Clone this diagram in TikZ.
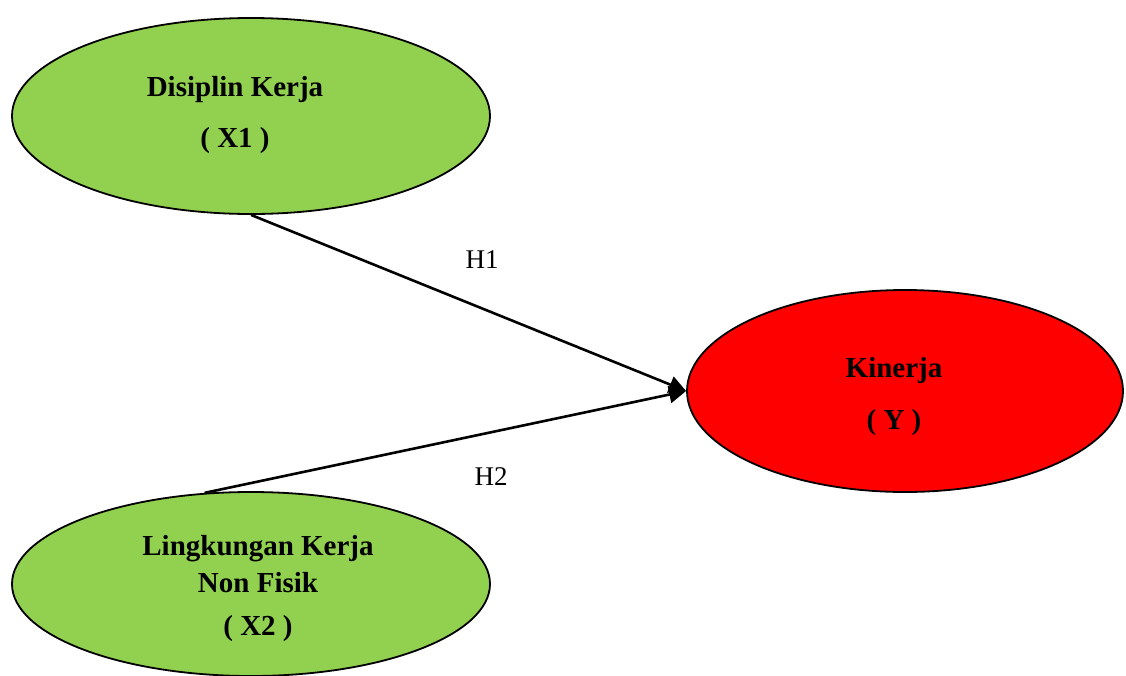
\documentclass[tikz,border=0pt]{standalone}
\usepackage{fontspec}
\setmainfont{Liberation Serif}
\usetikzlibrary{shapes.geometric,arrows.meta}
\definecolor{vargreen}{HTML}{92D050}
\definecolor{varred}{HTML}{FF0000}

\begin{document}
\begin{tikzpicture}[x=1pt,y=-1pt,
  varbox/.style={ellipse,draw=black,line width=1.8pt,inner sep=0pt,
    font=\fontsize{29}{34}\selectfont\bfseries},
  vartext/.style={align=center,font=\fontsize{29}{34}\selectfont\bfseries},
  hlabel/.style={font=\fontsize{27}{32}\selectfont},
  hyp/.style={line width=2.6pt,-{Triangle[length=17pt,width=17pt]}}]
\useasboundingbox (0,0) rectangle (1126,675);
% variables
\node[varbox,fill=vargreen,minimum width=478pt,minimum height=196pt] (x1) at (251,116) {};
\node[varbox,fill=vargreen,minimum width=478pt,minimum height=184pt] (x2) at (251,584) {};
\node[varbox,fill=varred,minimum width=436pt,minimum height=202pt] (y) at (905,391) {};
\node[vartext] (x1t) at (235,115) {Disiplin Kerja\\[17pt]( X1 )};
\node[vartext] (x2t) at (258,589) {Lingkungan Kerja\\[3pt]Non Fisik\\[9pt]( X2 )};
\node[vartext] (yt) at (894,397) {Kinerja\\[18pt]( Y )};
% hypotheses
\draw[hyp] (x1.south) -- (y.west);
\draw[hyp] (x2.117) -- (y.west);
\node[hlabel] (h1) at (482,260) {H1};
\node[hlabel] (h2) at (491,477) {H2};
\end{tikzpicture}
\end{document}
